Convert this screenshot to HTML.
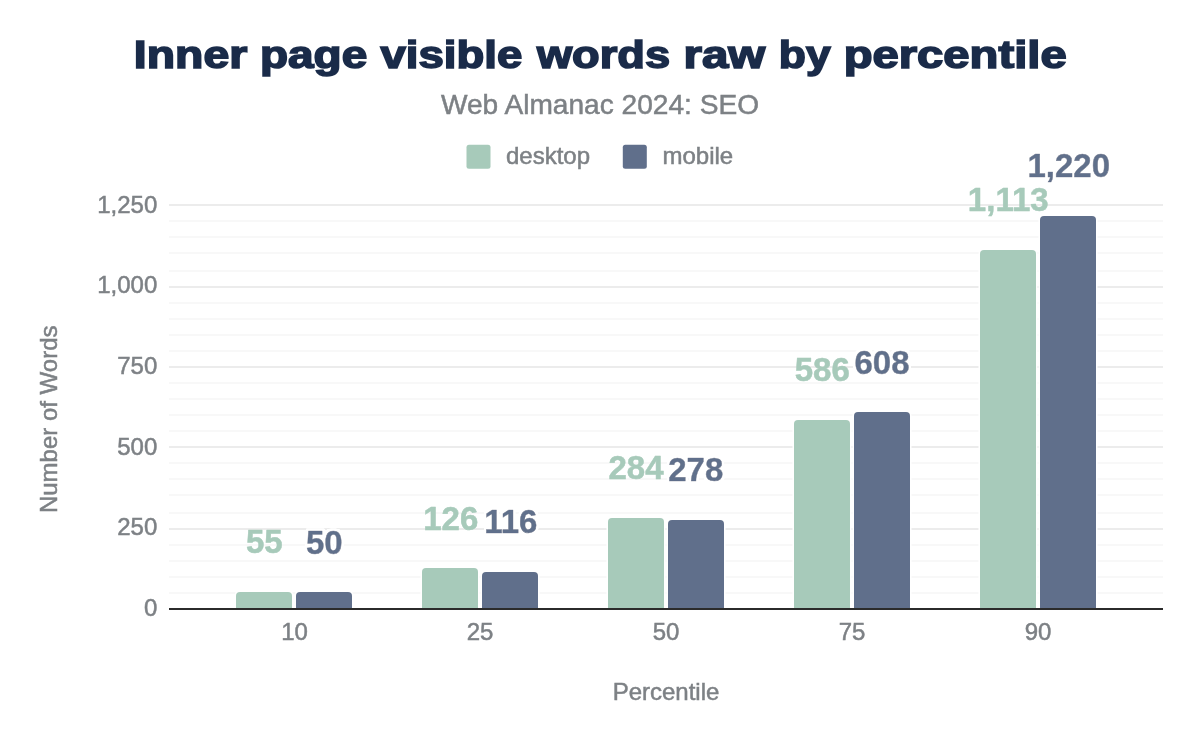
<!DOCTYPE html>
<html lang="en"><head><meta charset="utf-8"><title>Inner page visible words raw by percentile</title>
<style>html,body{margin:0;padding:0;background:#fff}body{width:1200px;height:742px;overflow:hidden}svg{display:block}text{font-family:"Liberation Sans",Arial,Helvetica,sans-serif}.t{font-weight:bold;fill:#1a2b49;stroke:#1a2b49;stroke-width:1.6px;stroke-linejoin:miter;stroke-miterlimit:3}.g{fill:#7d8185;stroke:#7d8185;stroke-width:.5px}.dl{font-weight:bold;font-size:33px;text-anchor:middle;stroke-width:.5px;stroke-linejoin:round}</style></head><body>
<svg width="1200" height="742" viewBox="0 0 1200 742">
<defs><filter id="halo" x="-10%" y="-25%" width="120%" height="150%"><feMorphology in="SourceAlpha" operator="dilate" radius="1.6" result="d"/><feGaussianBlur in="d" stdDeviation="0.5" result="b"/><feComponentTransfer in="b" result="a"><feFuncA type="linear" slope="3"/></feComponentTransfer><feFlood flood-color="#fff"/><feComposite in2="a" operator="in" result="h"/><feMerge><feMergeNode in="h"/><feMergeNode in="SourceGraphic"/></feMerge></filter></defs>
<rect width="1200" height="742" fill="#fff"/>
<rect x="169" y="220.5" width="994" height="1" fill="#f1f1f1"/>
<rect x="169" y="236.5" width="994" height="1" fill="#f1f1f1"/>
<rect x="169" y="252.5" width="994" height="1" fill="#f1f1f1"/>
<rect x="169" y="270.5" width="994" height="1" fill="#f1f1f1"/>
<rect x="169" y="302.5" width="994" height="1" fill="#f1f1f1"/>
<rect x="169" y="318.5" width="994" height="1" fill="#f1f1f1"/>
<rect x="169" y="334.5" width="994" height="1" fill="#f1f1f1"/>
<rect x="169" y="350.5" width="994" height="1" fill="#f1f1f1"/>
<rect x="169" y="382.5" width="994" height="1" fill="#f1f1f1"/>
<rect x="169" y="398.5" width="994" height="1" fill="#f1f1f1"/>
<rect x="169" y="414.5" width="994" height="1" fill="#f1f1f1"/>
<rect x="169" y="430.5" width="994" height="1" fill="#f1f1f1"/>
<rect x="169" y="462.5" width="994" height="1" fill="#f1f1f1"/>
<rect x="169" y="478.5" width="994" height="1" fill="#f1f1f1"/>
<rect x="169" y="494.5" width="994" height="1" fill="#f1f1f1"/>
<rect x="169" y="512.5" width="994" height="1" fill="#f1f1f1"/>
<rect x="169" y="544.5" width="994" height="1" fill="#f1f1f1"/>
<rect x="169" y="560.5" width="994" height="1" fill="#f1f1f1"/>
<rect x="169" y="576.5" width="994" height="1" fill="#f1f1f1"/>
<rect x="169" y="592.5" width="994" height="1" fill="#f1f1f1"/>
<rect x="169" y="204" width="994" height="2" fill="#ececec"/>
<rect x="169" y="286" width="994" height="2" fill="#ececec"/>
<rect x="169" y="366" width="994" height="2" fill="#ececec"/>
<rect x="169" y="446" width="994" height="2" fill="#ececec"/>
<rect x="169" y="528" width="994" height="2" fill="#ececec"/>
<text class="t" y="68.3" font-size="38"><tspan x="133.89" textLength="113.44" lengthAdjust="spacingAndGlyphs">Inner</tspan> <tspan x="259.96" textLength="107.26" lengthAdjust="spacingAndGlyphs">page</tspan> <tspan x="380.42" textLength="141.84" lengthAdjust="spacingAndGlyphs">visible</tspan> <tspan x="536.96" textLength="133.11" lengthAdjust="spacingAndGlyphs">words</tspan> <tspan x="683.44" textLength="81.82" lengthAdjust="spacingAndGlyphs">raw</tspan> <tspan x="778.83" textLength="51.83" lengthAdjust="spacingAndGlyphs">by</tspan> <tspan x="843.65" textLength="223.03" lengthAdjust="spacingAndGlyphs">percentile</tspan></text>
<text class="g" x="600" y="114.2" font-size="28.1" text-anchor="middle">Web Almanac 2024: SEO</text>
<rect x="466.5" y="144.8" width="24" height="24" rx="2.5" fill="#a7caba"/>
<text class="g" x="506" y="164" font-size="24">desktop</text>
<rect x="622.8" y="144.8" width="24" height="24" rx="2.5" fill="#606f8b"/>
<text class="g" x="662.5" y="164" font-size="24">mobile</text>
<text class="g" x="157.3" y="616.0" font-size="24" text-anchor="end">0</text>
<text class="g" x="157.3" y="535.3" font-size="24" text-anchor="end">250</text>
<text class="g" x="157.3" y="454.8" font-size="24" text-anchor="end">500</text>
<text class="g" x="157.3" y="374.0" font-size="24" text-anchor="end">750</text>
<text class="g" x="157.3" y="292.8" font-size="24" text-anchor="end">1,000</text>
<text class="g" x="157.3" y="212.8" font-size="24" text-anchor="end">1,250</text>
<text class="g" transform="translate(56.5,419.3) rotate(-90)" font-size="24" text-anchor="middle">Number of Words</text>
<path d="M236 608.5 V596 Q236 592 240 592 H288 Q292 592 292 596 V608.5 Z" fill="#a7caba" stroke="#fff" stroke-width="3" paint-order="stroke"/>
<path d="M296 608.5 V596 Q296 592 300 592 H348 Q352 592 352 596 V608.5 Z" fill="#606f8b" stroke="#fff" stroke-width="3" paint-order="stroke"/>
<path d="M422 608.5 V572 Q422 568 426 568 H474 Q478 568 478 572 V608.5 Z" fill="#a7caba" stroke="#fff" stroke-width="3" paint-order="stroke"/>
<path d="M482 608.5 V576 Q482 572 486 572 H534 Q538 572 538 576 V608.5 Z" fill="#606f8b" stroke="#fff" stroke-width="3" paint-order="stroke"/>
<path d="M608 608.5 V522 Q608 518 612 518 H660 Q664 518 664 522 V608.5 Z" fill="#a7caba" stroke="#fff" stroke-width="3" paint-order="stroke"/>
<path d="M668 608.5 V524 Q668 520 672 520 H720 Q724 520 724 524 V608.5 Z" fill="#606f8b" stroke="#fff" stroke-width="3" paint-order="stroke"/>
<path d="M794 608.5 V424 Q794 420 798 420 H846 Q850 420 850 424 V608.5 Z" fill="#a7caba" stroke="#fff" stroke-width="3" paint-order="stroke"/>
<path d="M854 608.5 V416 Q854 412 858 412 H906 Q910 412 910 416 V608.5 Z" fill="#606f8b" stroke="#fff" stroke-width="3" paint-order="stroke"/>
<path d="M980 608.5 V254 Q980 250 984 250 H1032 Q1036 250 1036 254 V608.5 Z" fill="#a7caba" stroke="#fff" stroke-width="3" paint-order="stroke"/>
<path d="M1040 608.5 V220 Q1040 216 1044 216 H1092 Q1096 216 1096 220 V608.5 Z" fill="#606f8b" stroke="#fff" stroke-width="3" paint-order="stroke"/>
<rect x="169" y="608" width="994" height="2" fill="#2b2b2b"/>
<text class="g" x="294.5" y="640" font-size="24" text-anchor="middle">10</text>
<text class="g" x="480" y="640" font-size="24" text-anchor="middle">25</text>
<text class="g" x="666" y="640" font-size="24" text-anchor="middle">50</text>
<text class="g" x="852" y="640" font-size="24" text-anchor="middle">75</text>
<text class="g" x="1038" y="640" font-size="24" text-anchor="middle">90</text>
<text class="g" x="666" y="700" font-size="24" text-anchor="middle">Percentile</text>
<text class="dl" x="264.25" y="553" fill="#a7caba" stroke="#a7caba">55</text>
<text class="dl" x="450.75" y="530" fill="#a7caba" stroke="#a7caba">126</text>
<text class="dl" x="636" y="479" fill="#a7caba" stroke="#a7caba">284</text>
<text class="dl" x="822.25" y="381" fill="#a7caba" stroke="#a7caba">586</text>
<text class="dl" x="1008.25" y="211" fill="#a7caba" stroke="#a7caba">1,113</text>
<text class="dl" x="324.25" y="554" fill="#606f8b" stroke="#606f8b" filter="url(#halo)">50</text>
<text class="dl" x="510.75" y="533" fill="#606f8b" stroke="#606f8b" filter="url(#halo)">116</text>
<text class="dl" x="695.75" y="481" fill="#606f8b" stroke="#606f8b" filter="url(#halo)">278</text>
<text class="dl" x="882" y="374" fill="#606f8b" stroke="#606f8b" filter="url(#halo)">608</text>
<text class="dl" x="1068.75" y="177" fill="#606f8b" stroke="#606f8b" filter="url(#halo)">1,220</text>
</svg></body></html>
